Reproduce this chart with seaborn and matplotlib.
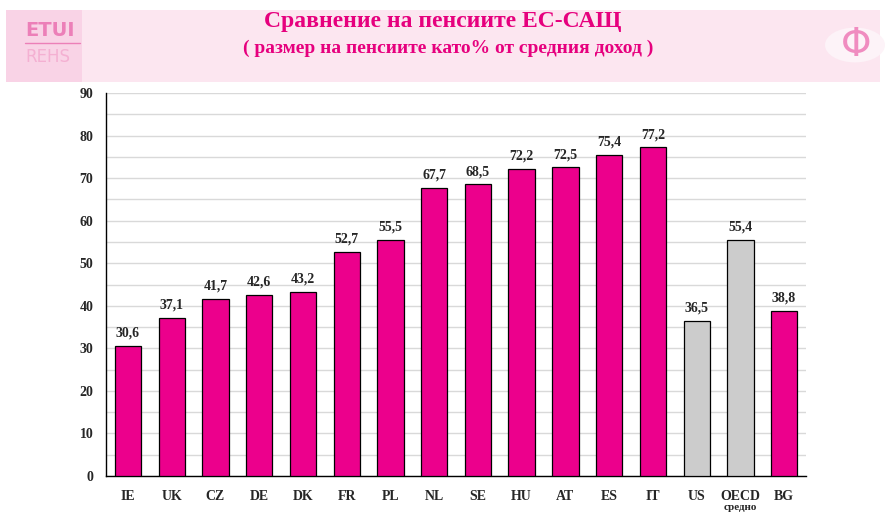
import matplotlib
matplotlib.use("Agg")
import matplotlib.pyplot as plt
import seaborn as sns
from matplotlib.patches import Rectangle, Circle

# data
countries = ['IE', 'UK', 'CZ', 'DE', 'DK', 'FR', 'PL', 'NL', 'SE', 'HU',
             'AT', 'ES', 'IT', 'US', 'OECD\nсредно', 'BG']
values = [30.6, 37.1, 41.7, 42.6, 43.2, 52.7, 55.5, 67.7, 68.5, 72.2,
          72.5, 75.4, 77.2, 36.5, 55.4, 38.8]
grey_ones = ['US', 'OECD\nсредно']

magenta = '#ec008c'
grey = '#cccccc'
colors = [grey if c in grey_ones else magenta for c in countries]

sns.set_theme(style='white')
plt.rcParams['font.family'] = ['Liberation Serif', 'DejaVu Serif']

fig = plt.figure(figsize=(8.86, 5.14), dpi=100)
ax = fig.add_axes([106 / 886, 38 / 514, 700 / 886, 383 / 514])

# header band
fig.patches.append(Rectangle((6 / 886, 1 - 82 / 514), 874 / 886, 72 / 514,
                             transform=fig.transFigure, facecolor='#fce6f0',
                             edgecolor='none', zorder=0))
fig.patches.append(Rectangle((6 / 886, 1 - 82 / 514), 76 / 886, 72 / 514,
                             transform=fig.transFigure, facecolor='#f9d3e6',
                             edgecolor='none', zorder=0))
fig.text(25 / 886, 1 - 30 / 514, 'ETUI', family='DejaVu Sans', fontsize=14,
         fontweight='bold', color='#ec7fb8', ha='left', va='center')
fig.text(25 / 886, 1 - 57 / 514, 'REHS', family='DejaVu Sans', fontsize=12,
         color='#f4b0d2', ha='left', va='center')
fig.lines.append(plt.Line2D([25 / 886, 80 / 886], [1 - 43 / 514, 1 - 43 / 514],
                            transform=fig.transFigure, color='#ec7fb8', lw=1))
fig.patches.append(Circle((855 / 886, 1 - 45 / 514), 30 / 886,
                          transform=fig.transFigure, facecolor='#fdf3f8',
                          edgecolor='none'))
fig.text(856 / 886, 1 - 45 / 514, '\u03a6', family='DejaVu Sans', fontsize=28,
         color='#f08cc0', ha='center', va='center')

fig.text(443 / 886, 1 - 22 / 514, 'Сравнение на пенсиите ЕС-САЩ',
         fontsize=17, fontweight='bold', color='#e6007e', ha='center', va='center')
fig.text(448 / 886, 1 - 48 / 514, '( размер на пенсиите като% от средния доход )',
         fontsize=14, fontweight='bold', color='#e6007e', ha='center', va='center')

sns.barplot(x=countries, y=values, hue=countries, palette=colors, legend=False,
            width=0.6, edgecolor='black', linewidth=0.9, saturation=1, ax=ax, zorder=3)

for i, v in enumerate(values):
    ax.text(i, v + 1.5, f'{v:.1f}'.replace('.', ','), ha='center', va='bottom',
            fontsize=10, fontweight='bold')

ax.set_xlim(-0.5, len(countries) - 0.5)
ax.set_ylim(0, 90)
ax.set_yticks(range(0, 91, 10))
ax.set_yticks(range(5, 90, 10), minor=True)
ax.yaxis.grid(True, which='both', color='#d9d9d9', lw=1)
ax.set_axisbelow(True)

# first line as tick label, second line of the OECD label set smaller below
ax.set_xticks(range(len(countries)))
ax.set_xticklabels([c.split('\n')[0] for c in countries], fontweight='bold', fontsize=10)
for i, c in enumerate(countries):
    if '\n' in c:
        fig.text((106 + 43.75 * (i + 0.5)) / 886, 1 - 508 / 514, c.split('\n')[1],
                 fontsize=8, fontweight='bold', ha='center', va='center')
ax.set_xticks([i - 0.5 for i in range(len(countries) + 1)], minor=True)
ax.tick_params(axis='x', which='major', length=0, pad=10)
ax.tick_params(axis='x', which='minor', length=4, width=1, color='black', direction='out')
ax.tick_params(axis='y', which='major', length=4, width=1, color='black',
               direction='out', labelsize=10, pad=5)
ax.tick_params(axis='y', which='minor', length=0)
for lab in ax.get_yticklabels():
    lab.set_fontweight('bold')

for s in ['top', 'right']:
    ax.spines[s].set_visible(False)
for s in ['left', 'bottom']:
    ax.spines[s].set_color('black')
    ax.spines[s].set_linewidth(1)

ax.set_xlabel('')
ax.set_ylabel('')

fig.savefig('out.png', dpi=100)
